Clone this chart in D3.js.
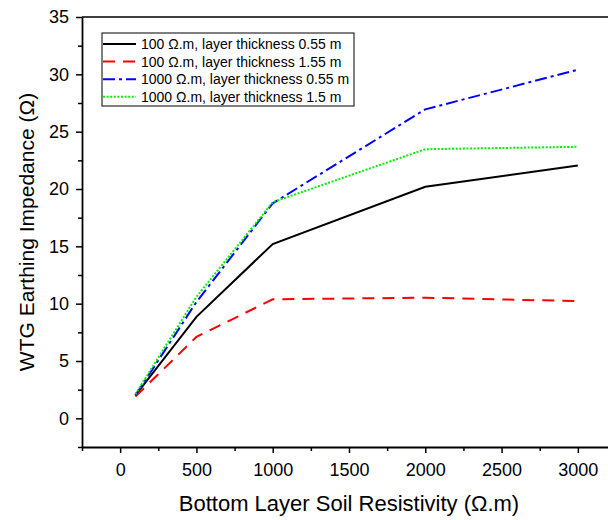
<!DOCTYPE html>
<html>
<head>
<meta charset="utf-8">
<script src="https://cdn.jsdelivr.net/npm/d3@7"></script>
<style>
  body { margin: 0; background: #fff; overflow: hidden; }
  text { font-family: "Liberation Sans", Arial, sans-serif; fill: #000; }
</style>
</head>
<body>
<div id="chart"></div>
<script>
var resistivity = [100, 500, 1000, 2000, 3000];
var black055 = [2.0, 8.85, 15.2, 20.2, 22.05];
var red155 = [1.9, 7.1, 10.38, 10.52, 10.22];
var blue055 = [2.0, 10.15, 18.75, 26.95, 30.4];
var green15 = [2.1, 10.6, 18.85, 23.47, 23.68];

var seriesNames = [
  "100 \u03A9.m, layer thickness 0.55 m",
  "100 \u03A9.m, layer thickness 1.55 m",
  "1000 \u03A9.m, layer thickness 0.55 m",
  "1000 \u03A9.m, layer thickness 1.5 m"
];
var xMajor = [0, 500, 1000, 1500, 2000, 2500, 3000];
var xMinor = [-250, 250, 750, 1250, 1750, 2250, 2750, 3250];
var yMajor = [0, 5, 10, 15, 20, 25, 30, 35];
var yMinor = [-2.5, 2.5, 7.5, 12.5, 17.5, 22.5, 27.5, 32.5];

var series = [
  {name: seriesNames[0], values: black055, color: "#000000", dash: null},
  {name: seriesNames[1], values: red155, color: "#ff0000", dash: "12,8"},
  {name: seriesNames[2], values: blue055, color: "#0000ff", dash: "12,4,3,4"},
  {name: seriesNames[3], values: green15, color: "#00f000", dash: "2,1.6"}
];

var width = 608, height = 520;
var mLeft = 82, mTop = 17, mBottom = 447, mRight = 616;

var svg = d3.select("#chart").append("svg")
    .attr("width", width)
    .attr("height", height);

var x = d3.scaleLinear().domain([-250, 3250]).range([mLeft, mRight]);
var y = d3.scaleLinear().domain([-2.5, 35]).range([mBottom, mTop]);

// frame top / right
svg.append("path")
    .attr("d", "M" + mLeft + "," + mTop + "H" + mRight + "V" + mBottom)
    .attr("fill", "none")
    .attr("stroke", "#000")
    .attr("stroke-width", 1.5);

// minor ticks
svg.append("g")
    .attr("transform", "translate(0," + mBottom + ")")
    .call(d3.axisBottom(x).tickValues(xMinor).tickSize(4).tickFormat("").tickSizeOuter(0))
    .call(function(g) { g.select(".domain").remove(); })
    .selectAll("line").attr("stroke-width", 1.5);
svg.append("g")
    .attr("transform", "translate(" + mLeft + ",0)")
    .call(d3.axisLeft(y).tickValues(yMinor).tickSize(4).tickFormat("").tickSizeOuter(0))
    .call(function(g) { g.select(".domain").remove(); })
    .selectAll("line").attr("stroke-width", 1.5);

// major axes
var xAxis = svg.append("g")
    .attr("transform", "translate(0," + mBottom + ")")
    .call(d3.axisBottom(x).tickValues(xMajor).tickFormat(d3.format("d"))
      .tickSize(6).tickPadding(10).tickSizeOuter(0));
var yAxis = svg.append("g")
    .attr("transform", "translate(" + mLeft + ",0)")
    .call(d3.axisLeft(y).tickValues(yMajor).tickFormat(d3.format("d"))
      .tickSize(6).tickPadding(7).tickSizeOuter(0));

[xAxis, yAxis].forEach(function(a) {
  a.select(".domain").attr("stroke-width", 1.8);
  a.selectAll("line").attr("stroke-width", 1.5);
  a.selectAll("text")
    .style("font-family", "'Liberation Sans', Arial, sans-serif")
    .style("font-size", "18px")
    .attr("fill", "#000");
});

// axis titles
svg.append("text")
    .attr("x", 349)
    .attr("y", 511)
    .attr("text-anchor", "middle")
    .style("font-size", "22px")
    .text("Bottom Layer Soil Resistivity (\u03A9.m)");
svg.append("text")
    .attr("transform", "translate(34,232) rotate(-90)")
    .attr("text-anchor", "middle")
    .style("font-size", "21px")
    .text("WTG Earthing Impedance (\u03A9)");

// lines
var line = d3.line()
    .x(function(d, i) { return x(resistivity[i]); })
    .y(function(d) { return y(d); });

svg.selectAll(".series")
    .data(series).enter().append("path")
    .attr("class", "series")
    .attr("d", function(d) { return line(d.values); })
    .attr("fill", "none")
    .attr("stroke", function(d) { return d.color; })
    .attr("stroke-width", 2)
    .attr("stroke-dasharray", function(d) { return d.dash; });

// legend
var legend = svg.append("g").attr("transform", "translate(102,33)");
legend.append("rect")
    .attr("width", 252)
    .attr("height", 73)
    .attr("fill", "#fff")
    .attr("stroke", "#000")
    .attr("stroke-width", 1);
var item = legend.selectAll(".item")
    .data(series).enter().append("g")
    .attr("class", "item")
    .attr("transform", function(d, i) { return "translate(0," + (11 + i * 17.6) + ")"; });
item.append("line")
    .attr("x1", 1).attr("x2", 34)
    .attr("stroke", function(d) { return d.color; })
    .attr("stroke-width", 2)
    .attr("stroke-dasharray", function(d) { return d.dash; });
item.append("text")
    .attr("x", 39)
    .attr("dy", "0.36em")
    .style("font-size", "14px")
    .text(function(d) { return d.name; });
</script>
</body>
</html>
